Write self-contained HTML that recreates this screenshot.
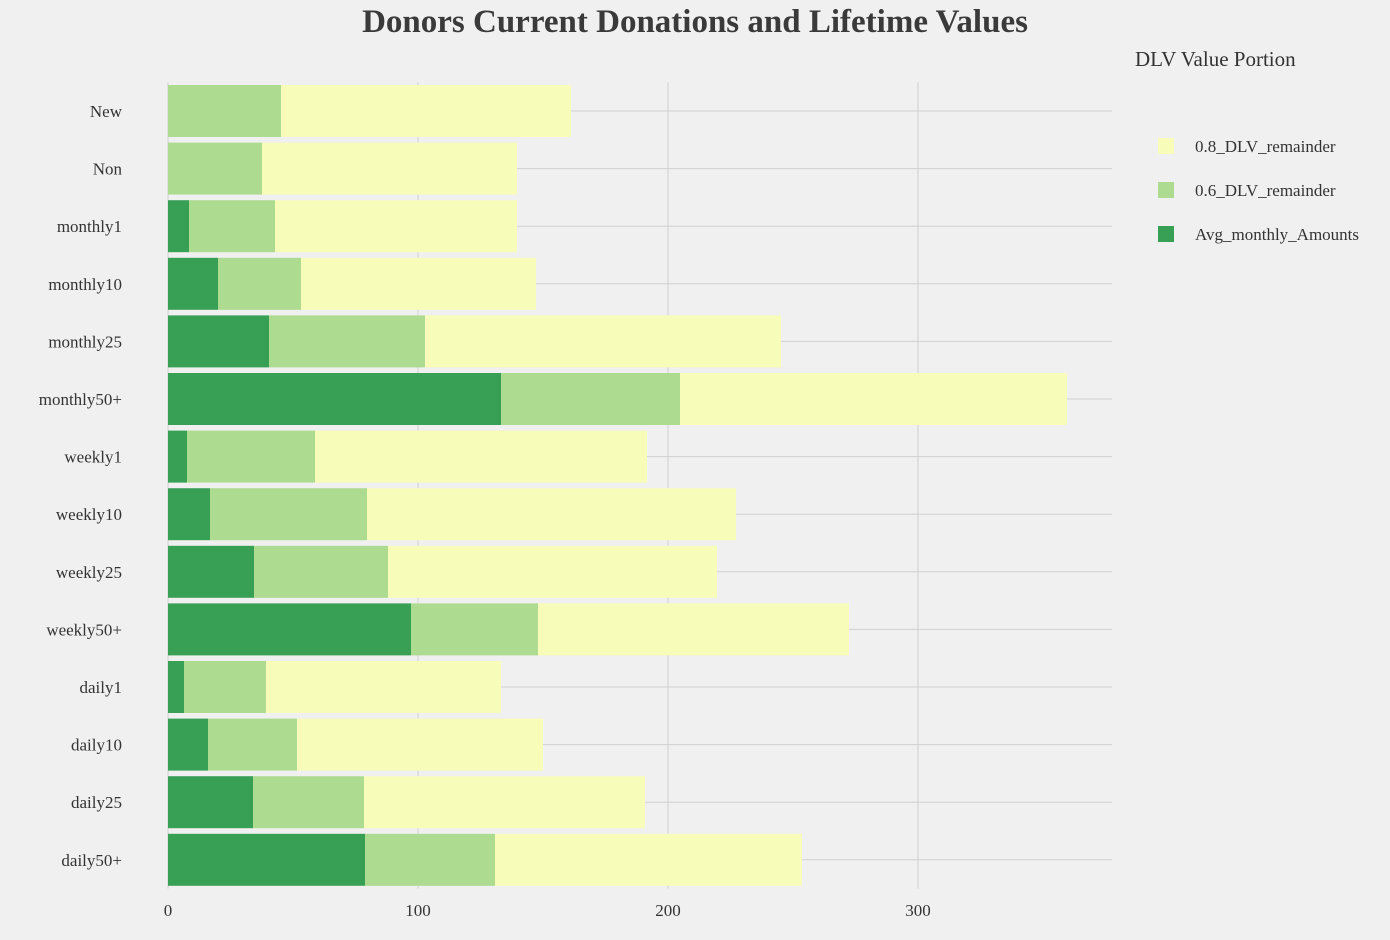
<!DOCTYPE html>
<html><head><meta charset="utf-8"><style>
body{margin:0;background:#f0f0f0;}
svg{font-family:"Liberation Serif",serif;display:block}
</style></head><body>
<svg id="chart" width="1390" height="940">
<rect width="1390" height="940" fill="#f0f0f0"/>
<text x="695" y="32" text-anchor="middle" font-size="33" font-weight="bold" fill="#3a3a3a">Donors Current Donations and Lifetime Values</text>
<g id="grid"></g><g id="bars"></g><g id="axes"></g>
<text x="1135" y="66" font-size="21" fill="#333">DLV Value Portion</text>
<g id="legend"></g>
</svg>
<script>
const categories=["New","Non","monthly1","monthly10","monthly25","monthly50+","weekly1","weekly10","weekly25","weekly50+","daily1","daily10","daily25","daily50+"];
const avgMonthly=[0,0,8.4,20,40.4,133.2,7.6,16.8,34.4,97.2,6.4,16,34,78.8];
const dlv06=[45.2,37.6,34.4,33.2,62.4,71.6,51.2,62.8,53.6,50.8,32.8,35.6,44.4,52];
const dlv08=[116,102,96.8,94,142.4,154.8,132.8,147.6,131.6,124.4,94,98.4,112.4,122.8];
const xTicks=[0,100,200,300];
const seriesNames=["Avg_monthly_Amounts","0.6_DLV_remainder","0.8_DLV_remainder"];
const colors=["#38a055","#addc91","#f7fcb9"];
const NS="http://www.w3.org/2000/svg";
const X0=168,X1=1112,XMAX=377.6,Y0=82.2,STEP=57.6,BH=52;
const x=v=>X0+v/XMAX*(X1-X0);
const yc=i=>Y0+STEP*(i+0.5);
function mk(tag,attrs,parent){const e=document.createElementNS(NS,tag);for(const k in attrs)e.setAttribute(k,attrs[k]);parent.appendChild(e);return e;}
const grid=document.getElementById('grid'),bars=document.getElementById('bars'),axes=document.getElementById('axes'),legend=document.getElementById('legend');
xTicks.forEach(t=>{
 const l=mk('line',{x1:x(t),x2:x(t),y1:Y0,y2:Y0+STEP*categories.length,stroke:'#d0d0d0','stroke-width':1},grid);
 
 
 const tx=mk('text',{x:x(t),y:916,'text-anchor':'middle','font-size':17,fill:'#333'},axes);
 tx.textContent=t;
 
 
});
categories.forEach((c,i)=>{
 const l=mk('line',{x1:X0,x2:X1,y1:yc(i),y2:yc(i),stroke:'#d0d0d0','stroke-width':1},grid);
 
 
 const tx=mk('text',{x:122,y:yc(i)+6,'text-anchor':'end','font-size':17,fill:'#333'},axes);
 tx.textContent=c;
 
 
 const vals=[avgMonthly[i],dlv06[i],dlv08[i]];let acc=0;
 vals.forEach((v,s)=>{
  const r=mk('rect',{x:x(acc),y:yc(i)-BH/2,width:Math.max(0,x(acc+v)-x(acc)),height:BH,fill:colors[s]},bars);
  
  
  acc+=v;
 });
});
[2,1,0].forEach((s,k)=>{
 const yy=146+k*44;
 const r=mk('rect',{x:1158,y:yy-8,width:16,height:16,fill:colors[s]},legend);
 
 
 const t=mk('text',{x:1195,y:yy+6,'font-size':17,fill:'#333'},legend);
 t.textContent=seriesNames[s];
 
 
});
</script>
</body></html>
